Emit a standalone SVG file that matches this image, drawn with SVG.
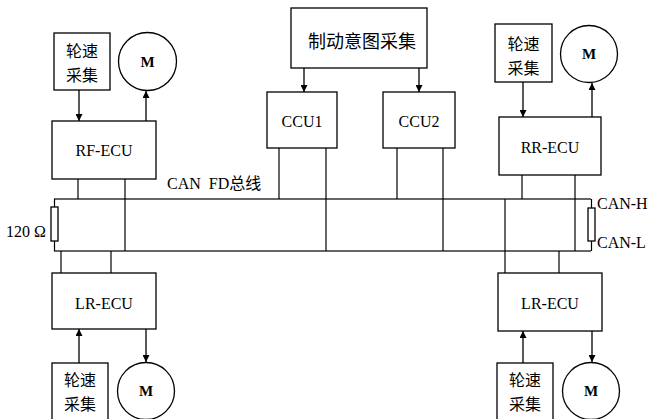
<svg xmlns="http://www.w3.org/2000/svg" width="648" height="419" viewBox="0 0 648 419">
<defs>
<marker id="ah" viewBox="0 0 10 10" refX="10" refY="5" markerWidth="7" markerHeight="7" markerUnits="userSpaceOnUse" orient="auto">
<path d="M0,0 L10,5 L0,10 Z" fill="#000"/>
</marker>
</defs>
<style>
.box{fill:#fff;stroke:#000;stroke-width:1.3}
.ln{fill:none;stroke:#000;stroke-width:1.2}
.bus{fill:none;stroke:#333;stroke-width:1.6}
.ar{fill:none;stroke:#000;stroke-width:1.3;marker-end:url(#ah)}
.t{font-family:"Liberation Serif","DejaVu Serif",serif;font-size:16px;fill:#000;text-anchor:middle;dominant-baseline:central}
.m{font-family:"Liberation Serif","DejaVu Serif",serif;font-size:15px;font-weight:bold;fill:#000;text-anchor:middle;dominant-baseline:central}
.c{font-family:"Noto Sans CJK SC",sans-serif;font-size:16px;fill:#000;text-anchor:middle;dominant-baseline:central}
.cb{font-family:"Noto Sans CJK SC",sans-serif;font-size:18px;fill:#000;text-anchor:middle;dominant-baseline:central}
.l{font-family:"Liberation Serif","Noto Sans CJK SC",serif;font-size:16px;fill:#000;dominant-baseline:central}
</style>
<rect width="648" height="419" fill="#fff"/>

<g id="connectors">
<line class="bus" x1="54" y1="199" x2="591" y2="199"/>
<line class="bus" x1="54" y1="251" x2="591" y2="251"/>
<line class="ln" x1="54.5" y1="199" x2="54.5" y2="251"/>
<line class="ln" x1="591.5" y1="199" x2="591.5" y2="251"/>
<line class="ln" x1="78" y1="179" x2="78" y2="199"/>
<line class="ln" x1="125" y1="179" x2="125" y2="251"/>
<line class="ln" x1="279" y1="148" x2="279" y2="199"/>
<line class="ln" x1="326" y1="148" x2="326" y2="251"/>
<line class="ln" x1="397" y1="148" x2="397" y2="199"/>
<line class="ln" x1="443" y1="148" x2="443" y2="251"/>
<line class="ln" x1="522" y1="175" x2="522" y2="199"/>
<line class="ln" x1="575" y1="175" x2="575" y2="251"/>
<line class="ln" x1="61" y1="251" x2="61" y2="273"/>
<line class="ln" x1="111" y1="251" x2="111" y2="273"/>
<line class="ln" x1="505" y1="199" x2="505" y2="273"/>
<line class="ln" x1="559" y1="251" x2="559" y2="273"/>
<line class="ar" x1="79" y1="90" x2="79" y2="121"/>
<line class="ar" x1="146" y1="121" x2="146" y2="91"/>
<line class="ar" x1="304" y1="68" x2="304" y2="92"/>
<line class="ar" x1="419" y1="68" x2="419" y2="92"/>
<line class="ar" x1="523" y1="82" x2="523" y2="117"/>
<line class="ar" x1="592" y1="117" x2="592" y2="83"/>
<line class="ar" x1="79" y1="363" x2="79" y2="329"/>
<line class="ar" x1="146" y1="329" x2="146" y2="362"/>
<line class="ar" x1="523" y1="363" x2="523" y2="331"/>
<line class="ar" x1="592" y1="331" x2="592" y2="362"/>
</g>

<g id="res-left">
<rect class="box" x="51" y="207" width="7" height="34"/>
<text class="l" x="6" y="231">120 Ω</text>
</g>
<g id="res-right">
<rect class="box" x="588" y="208" width="7" height="33"/>
<text class="l" x="597" y="203">CAN-H</text>
<text class="l" x="597" y="242">CAN-L</text>
</g>
<g id="bus-label">
<text class="l" x="167" y="183" xml:space="preserve">CAN  FD总线</text>
</g>

<g id="ws-rf">
<rect class="box" x="54" y="33" width="56" height="57"/>
<text class="c" x="82" y="50">轮速</text>
<text class="c" x="82" y="74">采集</text>
</g>
<g id="m-rf">
<circle class="box" cx="147.5" cy="61.5" r="29"/>
<text class="m" x="147.5" y="61.5">M</text>
</g>
<g id="rf-ecu">
<rect class="box" x="52" y="121" width="104" height="58"/>
<text class="t" x="104" y="150">RF-ECU</text>
</g>

<g id="brake">
<rect class="box" x="291" y="8" width="136" height="60"/>
<text class="cb" x="362" y="40">制动意图采集</text>
</g>
<g id="ccu1">
<rect class="box" x="267" y="92" width="70" height="56"/>
<text class="t" x="302" y="121">CCU1</text>
</g>
<g id="ccu2">
<rect class="box" x="383" y="92" width="72" height="56"/>
<text class="t" x="419" y="121">CCU2</text>
</g>

<g id="ws-rr">
<rect class="box" x="495" y="24" width="57" height="58"/>
<text class="c" x="523.5" y="43">轮速</text>
<text class="c" x="523.5" y="67">采集</text>
</g>
<g id="m-rr">
<circle class="box" cx="589" cy="54" r="28.5"/>
<text class="m" x="589" y="54">M</text>
</g>
<g id="rr-ecu">
<rect class="box" x="499" y="117" width="102" height="58"/>
<text class="t" x="550" y="147">RR-ECU</text>
</g>

<g id="lr-ecu-left">
<rect class="box" x="52" y="273" width="104" height="56"/>
<text class="t" x="104" y="303">LR-ECU</text>
</g>
<g id="ws-ll">
<rect class="box" x="52" y="363" width="56" height="62"/>
<text class="c" x="80" y="379">轮速</text>
<text class="c" x="80" y="403">采集</text>
</g>
<g id="m-ll">
<circle class="box" cx="146" cy="391" r="28.5"/>
<text class="m" x="146" y="391">M</text>
</g>

<g id="lr-ecu-right">
<rect class="box" x="498" y="273" width="104" height="58"/>
<text class="t" x="550" y="303">LR-ECU</text>
</g>
<g id="ws-lr">
<rect class="box" x="497" y="363" width="56" height="62"/>
<text class="c" x="525" y="379">轮速</text>
<text class="c" x="525" y="403">采集</text>
</g>
<g id="m-lr">
<circle class="box" cx="591" cy="391" r="28.5"/>
<text class="m" x="591" y="391">M</text>
</g>
</svg>
